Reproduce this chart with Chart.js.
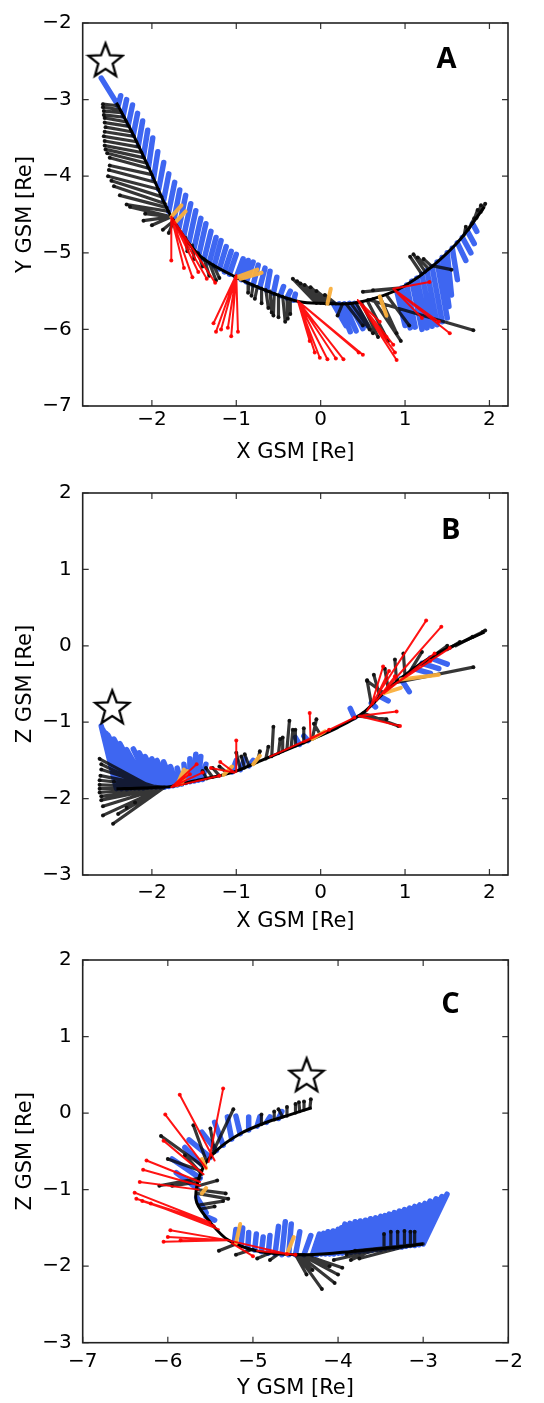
<!DOCTYPE html>
<html>
<head>
<meta charset="utf-8">
<script src="https://cdn.jsdelivr.net/npm/chart.js@4.4.1/dist/chart.umd.min.js"></script>
<style>
  body { margin: 0; background: #fff; }
  .panel { position: absolute; left: 0; width: 544px; }
</style>
</head>
<body>
<div class="panel" style="top:0;height:470px"><canvas id="chartA"></canvas></div>
<div class="panel" style="top:470px;height:467px"><canvas id="chartB"></canvas></div>
<div class="panel" style="top:937px;height:466px"><canvas id="chartC"></canvas></div>
<script>
// ticks
const xTicksAB = [-2, -1, 0, 1, 2];
const yTicksA = [-7, -6, -5, -4, -3, -2];
const yTicksBC = [-3, -2, -1, 0, 1, 2];
const xTicksC = [-7, -6, -5, -4, -3, -2];

// star markers [x, y]
const aStar = [-2.55, -2.48];
const bStar = [-2.47, -0.80];
const cStar = [-4.37, 0.50];

// ---------- panel A : X vs Y ----------
const aTrack = [[-2.42,-3.04],[-2.22,-3.46],[-2.02,-3.93],[-1.77,-4.53],[-1.43,-5.04],[-1.00,-5.32],[-0.56,-5.53],[-0.25,-5.64],[0.00,-5.66],[0.38,-5.66],[0.74,-5.56],[1.00,-5.43],[1.33,-5.17],[1.65,-4.83],[1.94,-4.40]];
// vectors: [baseX, baseY, tipX, tipY]
const aBlue = [
  [-2.42,-3.04,-2.60,-2.72],[-2.40,-3.08,-2.37,-2.95],[-2.34,-3.21,-2.30,-3.00],[-2.28,-3.33,-2.23,-3.07],
  [-2.22,-3.46,-2.17,-3.18],[-2.16,-3.60,-2.11,-3.28],[-2.10,-3.74,-2.05,-3.40],[-2.04,-3.88,-1.99,-3.50],
  [-1.98,-4.03,-1.93,-3.68],[-1.92,-4.17,-1.86,-3.82],[-1.86,-4.31,-1.80,-3.97],[-1.80,-4.46,-1.73,-4.08],
  [-1.74,-4.58,-1.67,-4.18],[-1.68,-4.68,-1.60,-4.25],[-1.62,-4.77,-1.54,-4.36],[-1.56,-4.86,-1.48,-4.45],
  [-1.50,-4.94,-1.42,-4.55],[-1.44,-5.01,-1.36,-4.62],[-1.38,-5.08,-1.30,-4.72],[-1.32,-5.13,-1.24,-4.80],
  [-1.26,-5.17,-1.18,-4.84],[-1.20,-5.21,-1.12,-4.92],[-1.14,-5.25,-1.06,-4.98],[-1.08,-5.28,-1.00,-5.02],
  [-1.00,-5.32,-0.92,-5.08],[-0.94,-5.35,-0.86,-5.10],[-0.88,-5.38,-0.80,-5.12],[-0.80,-5.42,-0.74,-5.16],
  [-0.72,-5.45,-0.66,-5.20],[-0.64,-5.49,-0.60,-5.24],[-0.56,-5.53,-0.52,-5.32],[-0.48,-5.56,-0.44,-5.44],
  [-0.40,-5.59,-0.36,-5.50],[-0.32,-5.62,-0.30,-5.54],
  [0.15,-5.665,0.30,-5.95],[0.22,-5.665,0.35,-6.03],[0.28,-5.665,0.42,-6.02],[0.34,-5.66,0.50,-5.99],[0.40,-5.66,0.55,-5.95],
  [0.90,-5.49,1.00,-5.95],[0.96,-5.46,1.06,-5.98],[1.02,-5.42,1.12,-5.97],[1.08,-5.37,1.20,-6.00],
  [1.14,-5.33,1.26,-5.98],[1.20,-5.28,1.32,-5.96],[1.26,-5.23,1.38,-5.94],[1.32,-5.18,1.44,-5.90],
  [1.38,-5.12,1.50,-5.85],[1.44,-5.06,1.52,-5.70],[1.50,-5.00,1.55,-5.55],[1.56,-4.94,1.62,-5.35],
  [1.62,-4.87,1.72,-5.10],[1.68,-4.80,1.78,-5.00],[1.74,-4.72,1.82,-4.88],[1.80,-4.62,1.85,-4.72]
];
const aBlack = [
  [-2.40,-3.08,-2.58,-3.06],[-2.38,-3.13,-2.58,-3.10],[-2.36,-3.17,-2.57,-3.15],[-2.33,-3.23,-2.57,-3.20],
  [-2.30,-3.29,-2.56,-3.24],[-2.27,-3.35,-2.56,-3.30],[-2.24,-3.42,-2.55,-3.36],[-2.21,-3.48,-2.56,-3.42],
  [-2.18,-3.55,-2.57,-3.48],[-2.15,-3.62,-2.56,-3.54],[-2.12,-3.69,-2.56,-3.60],[-2.09,-3.76,-2.55,-3.65],
  [-2.06,-3.83,-2.53,-3.70],[-2.03,-3.90,-2.50,-3.76],[-2.00,-3.98,-2.50,-3.86],[-1.96,-4.08,-2.51,-3.92],
  [-1.92,-4.17,-2.52,-4.00],[-1.88,-4.27,-2.48,-4.06],[-1.84,-4.36,-2.45,-4.13],[-1.82,-4.41,-2.38,-4.25],
  [-1.80,-4.46,-2.30,-4.37],
  [-1.77,-4.53,-2.26,-4.40],[-1.77,-4.53,-2.08,-4.49],[-1.77,-4.53,-2.10,-4.58],[-1.77,-4.53,-2.00,-4.64],
  [-1.74,-4.58,-1.87,-4.70],[-1.74,-4.58,-1.80,-4.74],
  [-1.60,-4.80,-1.58,-4.98],[-1.52,-4.90,-1.50,-5.08],[-1.45,-5.00,-1.40,-5.18],[-1.38,-5.08,-1.32,-5.30],
  [-1.32,-5.13,-1.24,-5.36],[-1.27,-5.16,-1.20,-5.33],
  [-0.85,-5.40,-0.86,-5.52],[-0.80,-5.42,-0.82,-5.56],[-0.75,-5.44,-0.78,-5.60],[-0.70,-5.46,-0.70,-5.66],
  [-0.65,-5.48,-0.62,-5.72],[-0.60,-5.50,-0.58,-5.78],[-0.55,-5.53,-0.56,-5.82],[-0.50,-5.55,-0.50,-5.84],
  [-0.45,-5.57,-0.42,-5.90],[-0.40,-5.59,-0.39,-5.86],[-0.36,-5.60,-0.36,-5.80],
  [-0.05,-5.66,-0.33,-5.34],[0.00,-5.66,-0.28,-5.37],[0.03,-5.66,-0.24,-5.40],[0.06,-5.665,-0.19,-5.42],
  [0.10,-5.665,-0.12,-5.45],[0.14,-5.665,-0.05,-5.50],[0.18,-5.665,0.05,-5.55],
  [0.26,-5.665,0.20,-5.82],[0.30,-5.665,0.50,-5.95],[0.36,-5.66,0.58,-6.00],[0.42,-5.655,0.62,-6.05],
  [0.48,-5.64,0.68,-6.10],[0.55,-5.62,0.80,-6.15],[0.62,-5.60,0.95,-6.15],[0.70,-5.57,0.90,-6.05],
  [0.78,-5.55,1.05,-5.95],[0.56,-5.61,1.81,-6.01],[0.86,-5.47,0.50,-5.51],[0.92,-5.46,0.62,-5.49],
  [1.20,-5.28,1.06,-5.05],[1.24,-5.25,1.10,-5.02],[1.28,-5.21,1.15,-5.06],[1.32,-5.18,1.22,-5.08],
  [1.33,-5.17,1.55,-5.22],[1.70,-4.77,1.72,-4.66],[1.75,-4.70,1.82,-4.55],[1.80,-4.62,1.86,-4.44],
  [1.85,-4.55,1.90,-4.38],[1.90,-4.47,1.95,-4.36]
];
const aRed = [
  [-1.77,-4.53,-1.77,-5.10],[-1.77,-4.53,-1.62,-5.20],[-1.77,-4.53,-1.52,-5.32],[-1.77,-4.53,-1.45,-5.25],
  [-1.77,-4.53,-1.35,-5.34],[-1.77,-4.53,-1.25,-5.39],
  [-1.00,-5.29,-1.27,-5.92],[-1.00,-5.29,-1.24,-6.03],[-1.00,-5.29,-1.18,-6.00],[-1.00,-5.29,-1.10,-5.98],
  [-1.00,-5.29,-1.06,-6.09],[-1.00,-5.29,-0.98,-6.03],
  [-0.27,-5.63,-0.13,-6.15],[-0.27,-5.63,-0.07,-6.30],[-0.27,-5.63,-0.01,-6.37],[-0.27,-5.63,0.08,-6.39],
  [-0.27,-5.63,0.18,-6.38],[-0.27,-5.63,0.27,-6.39],[-0.27,-5.63,0.45,-6.30],[-0.27,-5.63,0.50,-6.33],
  [0.44,-5.62,0.70,-5.90],[0.44,-5.62,0.78,-6.10],[0.44,-5.62,0.86,-6.20],[0.44,-5.62,0.88,-6.30],
  [0.44,-5.62,0.90,-6.40],
  [0.86,-5.47,1.29,-5.38],[0.86,-5.47,1.20,-5.85],[0.86,-5.47,1.40,-5.90],[0.86,-5.47,1.53,-6.05]
];
const aOrange = [
  [-1.77,-4.53,-1.65,-4.38],[-1.72,-4.60,-1.60,-4.46],[-1.00,-5.32,-0.75,-5.22],[-0.95,-5.34,-0.70,-5.26],
  [0.08,-5.665,0.12,-5.47],[0.70,-5.57,0.78,-5.82]
];

// ---------- panel B : X vs Z ----------
const bTrack = [[-2.42,-1.87],[-2.10,-1.86],[-1.77,-1.84],[-1.50,-1.77],[-1.20,-1.70],[-1.00,-1.64],[-0.70,-1.50],[-0.40,-1.36],[-0.10,-1.22],[0.20,-1.07],[0.50,-0.88],[0.80,-0.56],[1.10,-0.30],[1.40,-0.09],[1.70,0.06],[1.94,0.18]];
const bBlue = [
  [-2.42,-1.87,-2.60,-1.05],[-2.36,-1.87,-2.58,-1.10],[-2.30,-1.87,-2.57,-1.12],[-2.25,-1.86,-2.54,-1.15],
  [-2.20,-1.86,-2.52,-1.17],[-2.15,-1.86,-2.45,-1.22],
  [-2.10,-1.86,-2.38,-1.28],[-2.05,-1.85,-2.30,-1.36],[-2.00,-1.85,-2.22,-1.35],[-1.95,-1.85,-2.15,-1.40],
  [-1.90,-1.85,-2.08,-1.45],[-1.85,-1.85,-2.00,-1.48],[-1.80,-1.84,-1.94,-1.50],[-1.75,-1.83,-1.86,-1.52],
  [-1.70,-1.82,-1.78,-1.58],[-1.65,-1.81,-1.70,-1.60],[-1.60,-1.79,-1.62,-1.55],[-1.55,-1.78,-1.55,-1.48],
  [-1.50,-1.77,-1.48,-1.42],[-1.45,-1.76,-1.42,-1.45],[-1.40,-1.75,-1.36,-1.55],
  [-1.05,-1.65,-1.00,-1.50],[-0.95,-1.62,-0.90,-1.48],[-0.85,-1.57,-0.80,-1.50],
  [-0.25,-1.29,-0.30,-1.20],[-0.15,-1.24,-0.20,-1.18],[0.40,-0.94,0.35,-0.82],[0.60,-0.75,0.65,-0.80],
  [0.70,-0.66,0.80,-0.72],[0.95,-0.43,1.05,-0.60],[1.10,-0.30,1.30,-0.36],[1.30,-0.16,1.50,-0.24],
  [1.20,-0.23,1.40,-0.30]
];
const bBlack = [
  [-2.00,-1.85,-2.62,-1.48],[-2.05,-1.85,-2.60,-1.55],[-1.95,-1.85,-2.60,-1.62],[-1.92,-1.85,-2.61,-1.70],
  [-1.88,-1.85,-2.62,-1.76],[-1.85,-1.85,-2.62,-1.82],[-1.85,-1.85,-2.62,-1.87],[-1.85,-1.85,-2.62,-1.92],
  [-1.85,-1.85,-2.60,-1.97],[-1.85,-1.85,-2.60,-2.02],[-1.85,-1.85,-2.58,-2.10],[-1.85,-1.85,-2.58,-2.22],
  [-1.85,-1.85,-2.46,-2.33],[-1.85,-1.85,-2.40,-2.20],[-1.85,-1.85,-2.30,-2.12],[-1.85,-1.85,-2.20,-2.05],
  [-2.10,-1.86,-2.45,-1.78],
  [-1.35,-1.74,-1.40,-1.64],[-1.28,-1.72,-1.36,-1.60],[-1.20,-1.70,-1.28,-1.60],[-1.10,-1.67,-1.20,-1.58],
  [-0.95,-1.62,-1.00,-1.40],[-0.90,-1.60,-0.94,-1.45],[-0.85,-1.57,-0.90,-1.42],[-0.75,-1.52,-0.72,-1.38],
  [-0.65,-1.48,-0.62,-1.32],[-0.58,-1.45,-0.56,-1.06],[-0.50,-1.41,-0.48,-1.22],[-0.45,-1.38,-0.45,-1.20],
  [-0.40,-1.36,-0.37,-0.98],[-0.35,-1.33,-0.33,-1.10],[-0.30,-1.31,-0.30,-1.10],[-0.20,-1.27,-0.20,-1.08],
  [-0.10,-1.22,-0.05,-0.96],[0.00,-1.17,-0.08,-1.02],
  [0.45,-0.92,0.78,-0.96],[0.50,-0.88,0.92,-1.05],[0.60,-0.76,0.55,-0.45],[0.70,-0.66,0.63,-0.38],
  [0.75,-0.62,0.55,-0.46],[0.80,-0.56,0.76,-0.30],[0.90,-0.48,0.88,-0.18],[1.00,-0.40,0.98,-0.10],
  [1.05,-0.35,1.20,-0.08],[0.90,-0.48,1.81,-0.28],[1.20,-0.24,1.40,-0.10],[1.35,-0.12,1.50,0.00],
  [1.50,-0.05,1.65,0.05],[1.60,0.00,1.80,0.12],[1.70,0.06,1.92,0.18],[1.80,0.11,1.95,0.20]
];
const bRed = [
  [-1.77,-1.85,-1.47,-1.55],[-1.77,-1.85,-1.55,-1.68],[-1.77,-1.85,-1.40,-1.66],[-1.77,-1.85,-1.20,-1.70],
  [-1.00,-1.65,-1.00,-1.24],[-1.02,-1.66,-1.19,-1.52],[-1.02,-1.66,-1.30,-1.60],[-0.12,-1.22,-0.13,-0.88],
  [-0.60,-1.45,0.10,-1.10],[-0.20,-1.26,0.40,-0.94],
  [0.55,-0.85,1.25,0.33],[0.70,-0.66,1.43,0.25],[0.80,-0.56,1.53,-0.03],[0.60,-0.78,0.74,-0.27],
  [0.62,-0.76,0.81,-0.33],[0.66,-0.72,0.88,-0.40],[0.45,-0.92,0.90,-0.86],[0.45,-0.92,0.94,-1.05],
  [0.75,-0.62,1.35,-0.10],[0.85,-0.52,1.30,-0.20]
];
const bOrange = [
  [-1.70,-1.82,-1.62,-1.62],[-1.65,-1.81,-1.58,-1.64],[-1.15,-1.69,-1.05,-1.58],[-0.80,-1.55,-0.72,-1.44],
  [-0.10,-1.22,0.05,-1.12],[0.95,-0.44,1.40,-0.38],[0.75,-0.62,0.95,-0.55]
];

// ---------- panel C : Y vs Z ----------
const cTrack = [[-3.00,-1.71],[-3.47,-1.77],[-4.06,-1.83],[-4.49,-1.85],[-4.92,-1.81],[-5.29,-1.66],[-5.50,-1.43],[-5.66,-1.17],[-5.66,-0.96],[-5.58,-0.70],[-5.43,-0.49],[-5.15,-0.27],[-4.84,-0.12],[-4.56,-0.02],[-4.31,0.07]];
const cBlue = [
  [-3.00,-1.71,-2.72,-1.06],[-3.05,-1.72,-2.78,-1.09],[-3.10,-1.73,-2.85,-1.12],[-3.15,-1.73,-2.92,-1.15],
  [-3.20,-1.74,-2.98,-1.18],[-3.25,-1.75,-3.04,-1.20],[-3.30,-1.75,-3.10,-1.22],[-3.35,-1.76,-3.16,-1.24],
  [-3.40,-1.76,-3.22,-1.26],[-3.45,-1.77,-3.28,-1.28],[-3.50,-1.78,-3.34,-1.30],[-3.55,-1.78,-3.40,-1.32],
  [-3.60,-1.79,-3.45,-1.34],[-3.65,-1.80,-3.50,-1.35],[-3.70,-1.80,-3.56,-1.37],[-3.75,-1.81,-3.62,-1.38],
  [-3.80,-1.81,-3.68,-1.40],[-3.85,-1.82,-3.74,-1.41],[-3.90,-1.82,-3.80,-1.42],[-3.95,-1.83,-3.86,-1.44],
  [-4.00,-1.83,-3.92,-1.45],[-4.05,-1.84,-3.96,-1.50],[-4.10,-1.84,-4.00,-1.52],[-4.15,-1.84,-4.06,-1.54],
  [-4.20,-1.84,-4.12,-1.55],[-4.25,-1.85,-4.17,-1.57],
  [-4.30,-1.85,-4.22,-1.58],[-4.40,-1.85,-4.32,-1.60],[-4.50,-1.85,-4.45,-1.55],
  [-4.58,-1.85,-4.55,-1.45],[-4.66,-1.85,-4.62,-1.42],[-4.74,-1.84,-4.70,-1.48],[-4.82,-1.83,-4.80,-1.60],
  [-4.90,-1.81,-4.88,-1.62],[-4.98,-1.79,-4.96,-1.58],[-5.06,-1.76,-5.05,-1.56],[-5.14,-1.73,-5.12,-1.50],
  [-5.22,-1.70,-5.20,-1.52],
  [-5.58,-0.70,-5.80,-0.45],[-5.50,-0.58,-5.75,-0.35],[-5.43,-0.49,-5.60,-0.25],[-5.35,-0.42,-5.45,-0.12],
  [-5.25,-0.34,-5.30,-0.05],[-5.15,-0.27,-5.20,-0.04],[-5.05,-0.22,-5.05,-0.05],[-4.95,-0.17,-4.92,-0.05],
  [-4.84,-0.12,-4.80,-0.05],[-4.70,-0.07,-4.66,0.02],
  [-5.62,-0.85,-5.95,-0.60],[-5.66,-0.98,-5.90,-0.78],[-5.66,-1.10,-5.55,-1.30],[-5.55,-1.35,-5.45,-1.40]
];
const cBlack = [
  [-3.10,-1.73,-3.10,-1.55],[-3.15,-1.74,-3.15,-1.55],[-3.22,-1.74,-3.22,-1.54],[-3.30,-1.75,-3.30,-1.55],
  [-3.38,-1.76,-3.38,-1.55],[-3.45,-1.77,-3.46,-1.58],
  [-3.00,-1.71,-3.80,-1.80],[-3.10,-1.73,-3.90,-1.85],[-3.20,-1.74,-3.75,-1.90],[-3.50,-1.78,-4.05,-1.92],
  [-3.60,-1.79,-3.85,-1.92],
  [-4.50,-1.85,-4.37,-2.11],[-4.50,-1.85,-4.30,-2.05],[-4.48,-1.85,-4.19,-2.30],[-4.46,-1.85,-4.04,-2.22],
  [-4.44,-1.85,-4.00,-2.11],[-4.42,-1.85,-4.10,-2.00],[-4.40,-1.85,-3.95,-2.02],
  [-4.80,-1.83,-4.95,-1.90],[-5.00,-1.78,-5.20,-1.85],[-5.20,-1.71,-5.40,-1.80],[-4.70,-1.84,-4.80,-1.92],
  [-5.66,-1.05,-5.29,-1.12],[-5.66,-1.00,-5.32,-1.05],[-5.62,-1.20,-5.35,-1.15],[-5.64,-0.95,-5.42,-0.88],
  [-5.60,-1.25,-5.45,-1.22],
  [-5.58,-0.70,-6.08,-0.30],[-5.55,-0.62,-5.70,-0.16],[-5.60,-0.76,-6.00,-0.60],[-5.62,-0.85,-6.10,-0.95],
  [-5.64,-0.90,-5.95,-0.95],[-5.50,-0.58,-5.23,0.05],[-5.45,-0.52,-5.50,-0.20],[-5.60,-0.80,-5.80,-0.55],
  [-4.90,-0.15,-4.90,-0.02],[-4.75,-0.09,-4.75,0.02],[-4.60,-0.04,-4.60,0.08],[-4.50,0.00,-4.50,0.12],
  [-4.40,0.04,-4.40,0.15],[-4.33,0.07,-4.32,0.18],[-4.45,0.02,-4.46,0.14],[-4.65,-0.05,-4.70,0.05]
];
const cRed = [
  [-5.45,-0.62,-5.86,0.24],[-5.52,-0.64,-5.35,0.32],[-5.55,-0.72,-6.03,-0.02],[-5.58,-0.80,-6.05,-0.36],
  [-5.62,-0.90,-6.25,-0.62],[-5.62,-0.95,-6.29,-0.74],[-5.64,-1.00,-6.33,-0.90],
  [-5.50,-1.43,-6.39,-1.04],[-5.50,-1.43,-6.37,-1.12],[-5.45,-1.47,-6.30,-1.15],[-5.40,-1.52,-6.20,-1.18],
  [-5.30,-1.66,-6.05,-1.68],[-5.30,-1.66,-5.97,-1.53],[-5.30,-1.66,-6.00,-1.62],[-5.30,-1.66,-5.85,-1.66],
  [-5.30,-1.66,-4.60,-1.84],[-5.25,-1.70,-5.00,-1.87],[-4.95,-1.80,-4.50,-1.85]
];
const cOrange = [
  [-5.55,-0.72,-5.60,-0.60],[-5.60,-1.05,-5.55,-0.98],[-5.20,-1.70,-5.15,-1.45],[-4.60,-1.84,-4.52,-1.62]
];

Chart.defaults.font.family = '"DejaVu Sans", sans-serif';
Chart.defaults.color = '#000';

const BLUE = 'rgba(28,75,238,0.85)';
const BLACK = 'rgba(10,10,10,0.82)';
const RED = 'rgba(255,0,0,0.92)';
const ORANGE = 'rgba(250,175,60,0.95)';

// five-pointed open star used as marker
function starImage(size) {
  const c = document.createElement('canvas');
  c.width = c.height = size;
  const g = c.getContext('2d');
  const cx = size / 2, cy = size / 2 + 1.5, R = size / 2 - 2, r = R * 0.42;
  g.beginPath();
  for (let i = 0; i < 10; i++) {
    const ang = -Math.PI / 2 + i * Math.PI / 5;
    const rad = i % 2 ? r : R;
    g.lineTo(cx + rad * Math.cos(ang), cy + rad * Math.sin(ang));
  }
  g.closePath();
  g.fillStyle = '#fff';
  g.fill();
  g.lineWidth = 2.3;
  g.strokeStyle = '#000';
  g.stroke();
  return c;
}
const starMarker = starImage(40);

function vecPoints(list) {
  const pts = [];
  list.forEach(v => {
    pts.push({x: v[0], y: v[1]});
    pts.push({x: v[2], y: v[3]});
    pts.push({x: v[2], y: null});
  });
  return pts;
}

function vecSet(list, color, width, dot, order) {
  return {
    data: vecPoints(list),
    showLine: true,
    spanGaps: false,
    borderColor: color,
    borderWidth: width,
    borderCapStyle: 'round',
    pointRadius: c => (c.dataIndex % 3 === 1 ? dot : 0),
    pointBackgroundColor: color,
    pointBorderWidth: 0,
    order: order
  };
}

const fmt = v => (v < 0 ? '\u2212' : '') + Math.abs(v);

// frame, inward ticks and panel letter
const framePlugin = {
  id: 'frame',
  afterDatasetsDraw(chart, args, opts) {
    const {ctx, chartArea: a, scales: {x, y}} = chart;
    ctx.save();
    ctx.strokeStyle = '#333';
    ctx.lineWidth = 1.2;
    ctx.beginPath();
    x.ticks.forEach(t => {
      const px = x.getPixelForValue(t.value);
      ctx.moveTo(px, a.bottom); ctx.lineTo(px, a.bottom - 6);
      ctx.moveTo(px, a.top); ctx.lineTo(px, a.top + 6);
    });
    y.ticks.forEach(t => {
      const py = y.getPixelForValue(t.value);
      ctx.moveTo(a.left, py); ctx.lineTo(a.left + 6, py);
      ctx.moveTo(a.right, py); ctx.lineTo(a.right - 6, py);
    });
    ctx.stroke();
    ctx.lineWidth = 1.6;
    ctx.strokeStyle = '#222';
    ctx.strokeRect(a.left, a.top, a.width, a.height);
    ctx.font = 'bold 29px "Open Sans"';
    ctx.textAlign = 'center';
    ctx.textBaseline = 'middle';
    ctx.fillStyle = '#000';
    ctx.fillText(opts.letter, x.getPixelForValue(opts.lx), y.getPixelForValue(opts.ly));
    ctx.restore();
  }
};

function makeChart(id, p) {
  return new Chart(document.getElementById(id), {
    type: 'scatter',
    data: {
      datasets: [
        {data: [{x: p.star[0], y: p.star[1]}], pointStyle: starMarker, pointRadius: 17, order: 0},
        vecSet(p.red, RED, 2, 2, 1),
        vecSet(p.orange, ORANGE, 4, 0, 2),
        {data: p.track.map(q => ({x: q[0], y: q[1]})), showLine: true, borderColor: '#000',
         borderWidth: 3, pointRadius: 0, tension: 0.3, order: 3},
        vecSet(p.black, BLACK, 3.2, 2, 4),
        vecSet(p.blue, BLUE, 5.5, 0, 5)
      ]
    },
    options: {
      responsive: true,
      maintainAspectRatio: false,
      animation: false,
      layout: {padding: {top: 15.7, right: p.padRight, left: 0, bottom: 0}},
      plugins: {
        legend: {display: false},
        tooltip: {enabled: false},
        frame: {letter: p.letter, lx: p.letterPos[0], ly: p.letterPos[1]}
      },
      scales: {
        x: {
          type: 'linear', min: p.xMin, max: p.xMax,
          grid: {display: false, drawTicks: false},
          border: {display: false},
          afterBuildTicks: s => { s.ticks = p.xTicks.map(v => ({value: v})); },
          afterFit: s => { s.height = p.xHeight; },
          ticks: {callback: fmt, font: {size: 20}, color: '#000', padding: p.xPad, maxRotation: 0, autoSkip: false},
          title: {display: true, text: p.xTitle, font: {size: 21}, color: '#000', padding: {top: 0, bottom: p.titlePad}}
        },
        y: {
          type: 'linear', min: p.yMin, max: p.yMax,
          grid: {display: false, drawTicks: false},
          border: {display: false},
          afterBuildTicks: s => { s.ticks = p.yTicks.map(v => ({value: v})); },
          afterFit: s => { s.width = 82.7; },
          ticks: {callback: fmt, font: {size: 20}, color: '#000', padding: 11, autoSkip: false},
          title: {display: true, text: p.yTitle, font: {size: 21}, color: '#000', padding: {top: 13.4, bottom: 0}}
        }
      }
    },
    plugins: [framePlugin]
  });
}

makeChart('chartA', {
  track: aTrack, blue: aBlue, black: aBlack, red: aRed, orange: aOrange, star: aStar,
  letter: 'A', letterPos: [1.49, -2.48],
  xMin: -2.82, xMax: 2.22, yMin: -7, yMax: -2, xTicks: xTicksAB, yTicks: yTicksA,
  xTitle: 'X GSM [Re]', yTitle: 'Y GSM [Re]',
  padRight: 36, xHeight: 64, xPad: 2, titlePad: 4.4
});
makeChart('chartB', {
  track: bTrack, blue: bBlue, black: bBlack, red: bRed, orange: bOrange, star: bStar,
  letter: 'B', letterPos: [1.54, 1.5],
  xMin: -2.82, xMax: 2.22, yMin: -3, yMax: 2, xTicks: xTicksAB, yTicks: yTicksBC,
  xTitle: 'X GSM [Re]', yTitle: 'Z GSM [Re]',
  padRight: 36, xHeight: 62, xPad: 6, titlePad: 2.7
});
makeChart('chartC', {
  track: cTrack, blue: cBlue, black: cBlack, red: cRed, orange: cOrange, star: cStar,
  letter: 'C', letterPos: [-2.68, 1.42],
  xMin: -7, xMax: -2, yMin: -3, yMax: 2, xTicks: xTicksC, yTicks: yTicksBC,
  xTitle: 'Y GSM [Re]', yTitle: 'Z GSM [Re]',
  padRight: 35.7, xHeight: 60.3, xPad: 7, titlePad: 1.4
});
</script>
</body>
</html>
